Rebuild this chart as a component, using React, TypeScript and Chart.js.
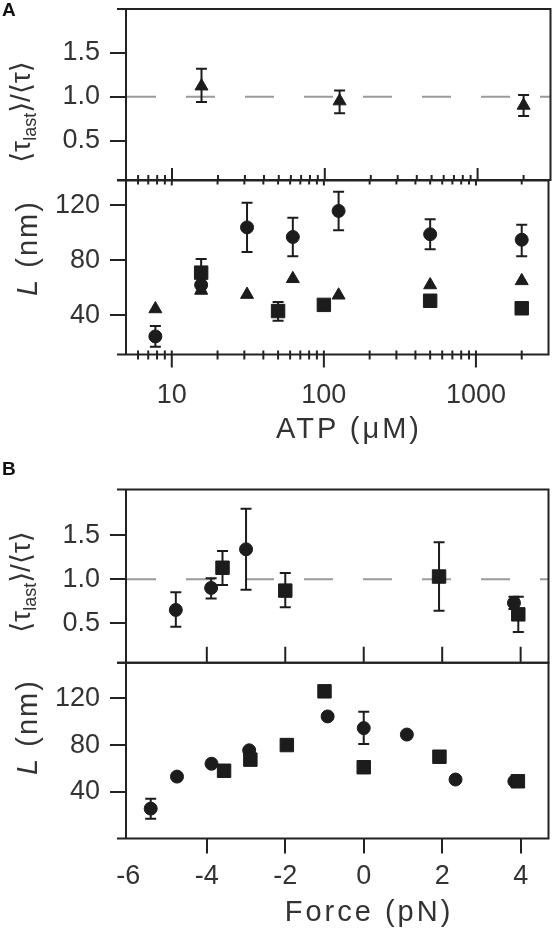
import React, { useEffect, useRef } from "react";
import { Chart, registerables } from "chart.js";

Chart.register(...registerables);

// ---------------- data ----------------
// Panel A, top: <tau_last>/<tau> vs ATP (triangles)
const atpRatioX = [15.6, 125, 2000];
const atpRatioY = [1.12, 0.95, 0.9];
const atpRatioLo = [0.94, 0.81, 0.78];
const atpRatioHi = [1.32, 1.07, 1.02];

// Panel A, bottom: L (nm) vs ATP
const atpCircleX = [7.8, 15.6, 31.25, 62.5, 125, 500, 2000];
const atpCircleY = [24.5, 62, 104, 97, 116, 99, 95];
const atpCircleLo = [17, 57, 86, 83, 102, 88, 83];
const atpCircleHi = [32, 67, 122, 111, 130, 110, 106];

const atpTriangleX = [7.8, 15.6, 31.25, 62.5, 125, 500, 2000];
const atpTriangleY = [44.5, 58, 55, 66.5, 54.5, 62, 65];

const atpSquareX = [15.6, 50, 100, 500, 2000];
const atpSquareY = [71, 43, 47.5, 50.5, 45];
const atpSquareLo = [61, 36, null, 48, null];
const atpSquareHi = [81, 49.5, null, 53, null];

// Panel B, top: <tau_last>/<tau> vs force
const forceRatioCircleX = [-4.79, -3.89, -3.0, 3.83];
const forceRatioCircleY = [0.65, 0.9, 1.34, 0.73];
const forceRatioCircleLo = [0.46, 0.78, 0.88, 0.66];
const forceRatioCircleHi = [0.85, 1.01, 1.8, 0.8];

const forceRatioSquareX = [-3.6, -2.0, 1.92, 3.94];
const forceRatioSquareY = [1.13, 0.87, 1.03, 0.6];
const forceRatioSquareLo = [0.935, 0.68, 0.64, 0.4];
const forceRatioSquareHi = [1.32, 1.07, 1.42, 0.8];

// Panel B, bottom: L (nm) vs force
const forceCircleX = [-5.43, -4.76, -3.88, -2.92, -0.92, 0, 1.1, 2.34, 3.84];
const forceCircleY = [25.6, 53, 64, 75.5, 104.5, 94.5, 89, 50.5, 49];
const forceCircleLo = [17, null, null, null, null, 81, null, null, null];
const forceCircleHi = [34, null, null, null, null, 108.5, null, null, null];

const forceSquareX = [-3.56, -2.89, -1.96, -1.0, 0, 1.93, 3.93];
const forceSquareY = [58, 67.5, 80, 126, 61, 70, 49];

// ticks
const ratioTicks = [0.5, 1.0, 1.5];
const lengthTicks = [40, 80, 120];
const atpMajorTicks = [10, 100, 1000];
const atpMinorTicks = [6, 7, 8, 9, 20, 30, 40, 50, 60, 70, 80, 90, 200, 300, 400, 500, 600, 700, 800, 900, 2000];
const forceTicks = [-6, -4, -2, 0, 2, 4];
const forceInnerTicks = [-4, -2, 0, 2, 4];

// ---------------- styling helpers ----------------
const FONT = '"Liberation Sans", Arial, Helvetica, sans-serif';
const INK = "#1c1c1c";
const AXIS = "#222";
const TEXT = "#333";
const W = 559;

type Pt = { x: number; y: number; lo: number | null; hi: number | null };

function pts(xs: number[], ys: number[], lo?: (number | null)[], hi?: (number | null)[]): Pt[] {
  return xs.map((x, i) => ({ x, y: ys[i], lo: lo ? lo[i] : null, hi: hi ? hi[i] : null }));
}

function series(label: string, data: Pt[], style: string, radius: number) {
  return {
    label,
    data,
    pointStyle: style,
    pointRadius: radius,
    pointHoverRadius: radius,
    backgroundColor: INK,
    borderColor: INK,
    borderWidth: 1,
    showLine: false,
  };
}

type EdgeTicks = { edge: "top" | "bottom"; values: number[]; up: number; down: number };

function decor(refLine: number | null, edgeTicks: EdgeTicks[]) {
  return {
    id: "decor",
    beforeDatasetsDraw(chart: any) {
      const { ctx, chartArea: a, scales } = chart;
      const ys = scales.y;
      ctx.save();
      if (refLine != null) {
        const y = ys.getPixelForValue(refLine);
        ctx.strokeStyle = "#9a9a9a";
        ctx.lineWidth = 2;
        ctx.setLineDash([29, 30]);
        ctx.beginPath();
        ctx.moveTo(a.left + 1, y);
        ctx.lineTo(a.right, y);
        ctx.stroke();
        ctx.setLineDash([]);
      }
      ctx.strokeStyle = INK;
      ctx.lineWidth = 2;
      chart.data.datasets.forEach((ds: any, i: number) => {
        const meta = chart.getDatasetMeta(i);
        ds.data.forEach((d: Pt, j: number) => {
          if (d.lo == null || d.hi == null) return;
          const el = meta.data[j];
          const x = el.x;
          const y1 = ys.getPixelForValue(d.lo);
          const y2 = ys.getPixelForValue(d.hi);
          ctx.beginPath();
          ctx.moveTo(x, y1);
          ctx.lineTo(x, y2);
          ctx.moveTo(x - 5.5, y1);
          ctx.lineTo(x + 5.5, y1);
          ctx.moveTo(x - 5.5, y2);
          ctx.lineTo(x + 5.5, y2);
          ctx.stroke();
        });
      });
      ctx.restore();
    },
    afterDraw(chart: any) {
      const { ctx, chartArea: a, scales } = chart;
      const xs = scales.x;
      ctx.save();
      ctx.strokeStyle = AXIS;
      ctx.lineWidth = 2;
      ctx.beginPath();
      ctx.moveTo(a.left - 9, a.top);
      ctx.lineTo(a.right + 1, a.top);
      ctx.moveTo(a.left - 9, a.bottom);
      ctx.lineTo(a.right + 1, a.bottom);
      ctx.moveTo(a.left, a.top - 1);
      ctx.lineTo(a.left, a.bottom + 1);
      ctx.moveTo(a.right, a.top - 1);
      ctx.lineTo(a.right, a.bottom + 1);
      edgeTicks.forEach((t) => {
        const y = t.edge === "top" ? a.top : a.bottom;
        t.values.forEach((v) => {
          const x = xs.getPixelForValue(v);
          ctx.moveTo(x, y - t.up);
          ctx.lineTo(x, y + t.down);
        });
      });
      ctx.stroke();
      ctx.restore();
    },
  };
}

function noPad(s: any) {
  s.paddingTop = 0;
  s.paddingBottom = 0;
  s.paddingLeft = 0;
  s.paddingRight = 0;
}

function yAxis(min: number, max: number, ticks: number[], fmt: (v: number) => string) {
  return {
    type: "linear",
    min,
    max,
    afterBuildTicks: (s: any) => {
      s.ticks = ticks.map((v) => ({ value: v }));
    },
    afterFit: (s: any) => {
      s.width = 126;
      noPad(s);
    },
    border: { display: false },
    grid: { drawOnChartArea: false, drawTicks: true, tickLength: 16, color: AXIS, lineWidth: 2 },
    ticks: { font: { family: FONT, size: 27 }, color: TEXT, padding: 10, callback: (v: any) => fmt(Number(v)) },
  };
}

const baseOptions = {
  responsive: false,
  animation: false,
  devicePixelRatio: 1,
  events: [],
  plugins: { legend: { display: false }, tooltip: { enabled: false } },
};

function buildAUpper(c: HTMLCanvasElement) {
  return new Chart(c, {
    type: "scatter",
    data: { datasets: [series("ratio", pts(atpRatioX, atpRatioY, atpRatioLo, atpRatioHi), "triangle", 7.5)] },
    options: {
      ...baseOptions,
      layout: { padding: { top: 9, right: 2.5, bottom: 12, left: 0 } },
      scales: {
        x: { type: "logarithmic", min: 5, max: 3000, display: false },
        y: yAxis(0.05, 2.0, ratioTicks, (v) => v.toFixed(1)),
      },
    },
    plugins: [
      decor(1, [
        { edge: "bottom", values: atpMinorTicks, up: 5, down: 0 },
        { edge: "bottom", values: atpMajorTicks, up: 12, down: 0 },
      ]),
    ],
  } as any);
}

function buildALower(c: HTMLCanvasElement) {
  return new Chart(c, {
    type: "scatter",
    data: {
      datasets: [
        series("triangles", pts(atpTriangleX, atpTriangleY), "triangle", 7.5),
        series("squares", pts(atpSquareX, atpSquareY, atpSquareLo, atpSquareHi), "rect", 9.5),
        series("circles", pts(atpCircleX, atpCircleY, atpCircleLo, atpCircleHi), "circle", 6.5),
      ],
    },
    options: {
      ...baseOptions,
      layout: { padding: { top: 10, right: 2.5, bottom: 0, left: 0 } },
      scales: {
        x: {
          type: "logarithmic",
          min: 5,
          max: 3000,
          afterBuildTicks: (s: any) => {
            s.ticks = atpMajorTicks.map((v) => ({ value: v, major: true }));
          },
          afterFit: (s: any) => {
            s.height = 95.5;
            noPad(s);
          },
          border: { display: false },
          grid: { display: false },
          ticks: {
            font: { family: FONT, size: 27 },
            color: TEXT,
            padding: 17,
            autoSkip: false,
            maxRotation: 0,
            callback: (v: any) => String(v),
          },
        },
        y: yAxis(11.3, 138.2, lengthTicks, (v) => String(v)),
      },
    },
    plugins: [
      decor(null, [
        { edge: "top", values: atpMinorTicks, up: 0, down: 4 },
        { edge: "top", values: atpMajorTicks, up: 0, down: 5 },
        { edge: "bottom", values: atpMinorTicks, up: 4, down: 5 },
        { edge: "bottom", values: atpMajorTicks, up: 4, down: 13 },
      ]),
    ],
  } as any);
}

function buildBUpper(c: HTMLCanvasElement) {
  return new Chart(c, {
    type: "scatter",
    data: {
      datasets: [
        series("squares", pts(forceRatioSquareX, forceRatioSquareY, forceRatioSquareLo, forceRatioSquareHi), "rect", 9.5),
        series("circles", pts(forceRatioCircleX, forceRatioCircleY, forceRatioCircleLo, forceRatioCircleHi), "circle", 6.5),
      ],
    },
    options: {
      ...baseOptions,
      layout: { padding: { top: 10, right: 2.5, bottom: 11.3, left: 0 } },
      scales: {
        x: { type: "linear", min: -6.06, max: 4.71, display: false },
        y: yAxis(0.05, 2.02, ratioTicks, (v) => v.toFixed(1)),
      },
    },
    plugins: [decor(1, [{ edge: "bottom", values: forceInnerTicks, up: 16, down: 0 }])],
  } as any);
}

function buildBLower(c: HTMLCanvasElement) {
  return new Chart(c, {
    type: "scatter",
    data: {
      datasets: [
        series("squares", pts(forceSquareX, forceSquareY), "rect", 9.5),
        series("circles", pts(forceCircleX, forceCircleY, forceCircleLo, forceCircleHi), "circle", 6.5),
      ],
    },
    options: {
      ...baseOptions,
      layout: { padding: { top: 10.7, right: 2.5, bottom: 0, left: 0 } },
      scales: {
        x: {
          type: "linear",
          min: -6.06,
          max: 4.71,
          afterBuildTicks: (s: any) => {
            s.ticks = forceTicks.map((v) => ({ value: v }));
          },
          afterFit: (s: any) => {
            s.height = 89.5;
            noPad(s);
          },
          border: { display: false },
          grid: {
            drawOnChartArea: false,
            drawTicks: true,
            tickLength: 15,
            lineWidth: 2,
            color: (ctx: any) => (ctx.tick && ctx.tick.value === -6 ? "rgba(0,0,0,0)" : AXIS),
          },
          ticks: {
            font: { family: FONT, size: 27 },
            color: TEXT,
            padding: 7,
            autoSkip: false,
            maxRotation: 0,
            callback: (v: any) => String(v),
          },
        },
        y: yAxis(0, 150.5, lengthTicks, (v) => String(v)),
      },
    },
    plugins: [decor(null, [])],
  } as any);
}

function Panel({ top, height, build }: { top: number; height: number; build: (c: HTMLCanvasElement) => Chart }) {
  const ref = useRef<HTMLCanvasElement>(null);
  useEffect(() => {
    const chart = build(ref.current as HTMLCanvasElement);
    return () => chart.destroy();
  }, []);
  return (
    <canvas
      ref={ref}
      width={W}
      height={height}
      style={{ position: "absolute", left: 0, top, width: W, height, display: "block" }}
    />
  );
}

const textBase: React.CSSProperties = {
  position: "absolute",
  fontFamily: FONT,
  color: TEXT,
  whiteSpace: "nowrap",
  lineHeight: 1,
};

function RatioTitle({ x, y }: { x: number; y: number }) {
  return (
    <div
      style={{
        ...textBase,
        left: x,
        top: y,
        fontSize: 28,
        fontFamily: '"Liberation Sans", "DejaVu Sans", Arial, sans-serif',
        transform: "translate(-50%, -50%) rotate(-90deg)",
      }}
    >
      ⟨τ<span style={{ fontSize: 18, position: "relative", top: 6 }}>last</span>⟩/⟨τ⟩
    </div>
  );
}

function LengthTitle({ x, y }: { x: number; y: number }) {
  return (
    <div
      style={{
        ...textBase,
        left: x,
        top: y,
        fontSize: 29,
        letterSpacing: "2px",
        transform: "translate(-50%, -50%) rotate(-90deg)",
      }}
    >
      <i>L</i> (nm)
    </div>
  );
}

export default function App() {
  return (
    <div style={{ position: "absolute", left: 0, top: 0, width: W, height: 928, background: "#fff", overflow: "hidden" }}>
      <Panel top={0} height={192} build={buildAUpper} />
      <Panel top={170} height={280} build={buildALower} />
      <Panel top={479} height={195} build={buildBUpper} />
      <Panel top={652} height={276} build={buildBLower} />

      <div style={{ ...textBase, left: 2, top: 0, fontSize: 19, fontWeight: "bold", color: "#111" }}>A</div>
      <div style={{ ...textBase, left: 2, top: 459, fontSize: 19, fontWeight: "bold", color: "#111" }}>B</div>

      <RatioTitle x={21} y={112} />
      <LengthTitle x={27} y={248} />
      <RatioTitle x={21} y={582} />
      <LengthTitle x={27} y={727} />

      <div style={{ ...textBase, left: 349, top: 428, fontSize: 29, letterSpacing: "3px", transform: "translate(-50%, -50%)" }}>
        ATP (μM)
      </div>
      <div style={{ ...textBase, left: 369, top: 911, fontSize: 29, letterSpacing: "3px", transform: "translate(-50%, -50%)" }}>
        Force (pN)
      </div>
    </div>
  );
}
